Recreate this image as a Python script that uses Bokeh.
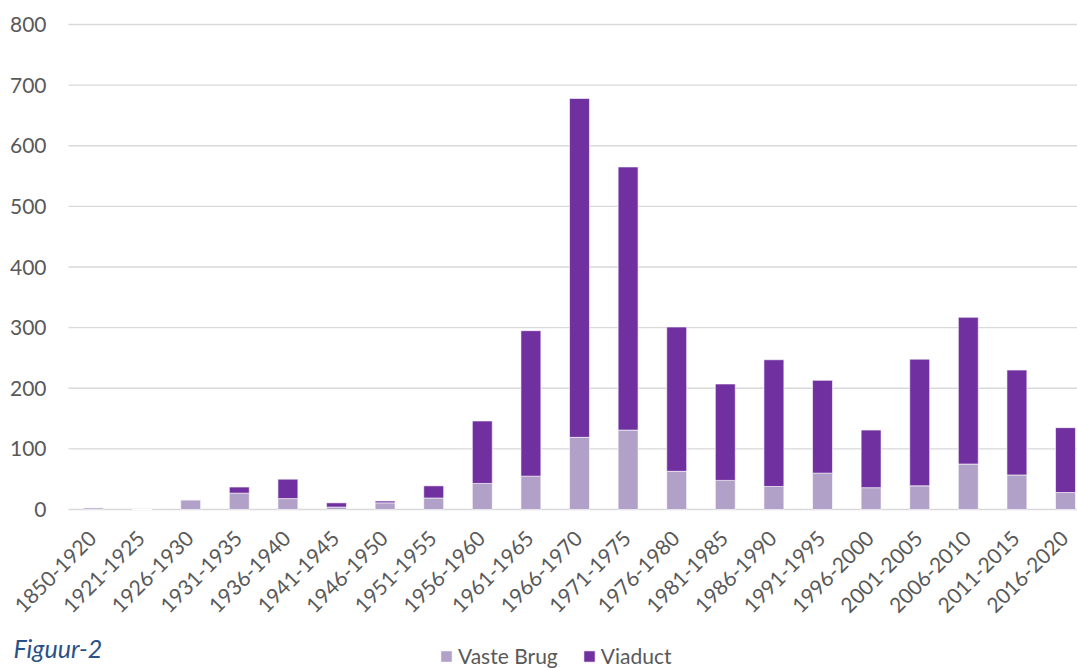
import math
from bokeh.plotting import figure
from bokeh.models import ColumnDataSource, Range1d, Legend, LegendItem, Label
from bokeh.core.properties import value
from bokeh.embed import file_html
from bokeh.resources import INLINE

# ---------------- data ----------------
periods = ["1850-1920", "1921-1925", "1926-1930", "1931-1935", "1936-1940", "1941-1945",
           "1946-1950", "1951-1955", "1956-1960", "1961-1965", "1966-1970", "1971-1975",
           "1976-1980", "1981-1985", "1986-1990", "1991-1995", "1996-2000", "2001-2005",
           "2006-2010", "2011-2015", "2016-2020"]
vaste_brug = [3, 0, 16, 27, 18, 4, 11, 19, 43, 55, 119, 131, 63, 48, 38, 60, 36, 39, 75, 57, 28]
viaduct = [0, 0, 0, 10, 32, 7, 3, 20, 103, 240, 559, 434, 238, 159, 209, 153, 95, 209, 242, 173, 107]
y_ticks = [0, 100, 200, 300, 400, 500, 600, 700, 800]
y_tick_labels = [str(t) for t in y_ticks]
series_names = ["Vaste Brug", "Viaduct"]
series_colors = ["#B1A0C7", "#7030A0"]
caption_text = "Figuur-2"

# ---------------- layout (pixels) ----------------
W, H = 1077, 668
BAND = 48.6          # px per category
X_FIRST = 93.0       # px of the first category centre
Y_ZERO = 509.0       # px of value 0
PX_PER_UNIT = 0.60625
PLOT_LEFT = 68.0     # px where the gridlines start


def px_x(px):
    return (px - X_FIRST) / BAND


def px_y(py):
    return (Y_ZERO - py) / PX_PER_UNIT


FONT = "Lato"
GREY = "#595959"

p = figure(width=W, height=H, output_backend="svg", toolbar_location=None,
           x_range=Range1d(px_x(0), px_x(W)), y_range=Range1d(px_y(H), px_y(0)),
           x_axis_location=None, y_axis_location=None,
           min_border_left=0, min_border_right=0, min_border_top=0, min_border_bottom=0)
p.outline_line_color = None
p.background_fill_color = "white"
p.border_fill_color = "white"
p.grid.visible = False

idx = list(range(len(periods)))
source = ColumnDataSource(dict(x=idx, vaste=vaste_brug, viaduct=viaduct, label=periods))

# gridlines (one per y tick)
grid_src = ColumnDataSource(dict(x0=[px_x(PLOT_LEFT)] * len(y_ticks),
                                 x1=[px_x(W)] * len(y_ticks),
                                 y=y_ticks, label=y_tick_labels,
                                 xl=[px_x(46)] * len(y_ticks)))
p.segment(x0="x0", y0="y", x1="x1", y1="y", source=grid_src,
          line_color="#D9D9D9", line_width=1.3)

# y tick labels
p.text(x="xl", y="y", text="label", source=grid_src, text_align="right",
       text_baseline="middle", text_font=value(FONT), text_font_size="21px",
       text_color=GREY)

# stacked bars
renderers = p.vbar_stack(["vaste", "viaduct"], x="x", width=0.41, source=source,
                         color=series_colors, line_color="white", line_width=0.6)

# category labels, rotated 45 degrees
p.text(x="x", y=0, text="label", source=source, angle=math.pi / 4,
       text_align="right", text_baseline="middle", x_offset=-1, y_offset=25,
       text_font=value(FONT), text_font_size="21px", text_color=GREY)

# legend
legend = Legend(items=[LegendItem(label=series_names[0], renderers=[renderers[0]]),
                       LegendItem(label=series_names[1], renderers=[renderers[1]])],
                location=(439, 0), orientation="horizontal")
legend.background_fill_alpha = 0
legend.border_line_color = None
legend.padding = 0
legend.margin = 0
legend.spacing = 24
legend.glyph_width = 14
legend.glyph_height = 14
legend.label_standoff = 5
legend.label_height = 20
legend.label_text_font = FONT
legend.label_text_font_size = "21px"
legend.label_text_color = GREY
p.add_layout(legend, "center")

caption = Label(x=px_x(13), y=px_y(647), text=caption_text, text_font=FONT,
                text_font_style="italic", text_font_size="25px", text_color="#2A5187",
                text_baseline="alphabetic")
p.add_layout(caption)

open("out.html", "w").write(file_html(p, INLINE))
